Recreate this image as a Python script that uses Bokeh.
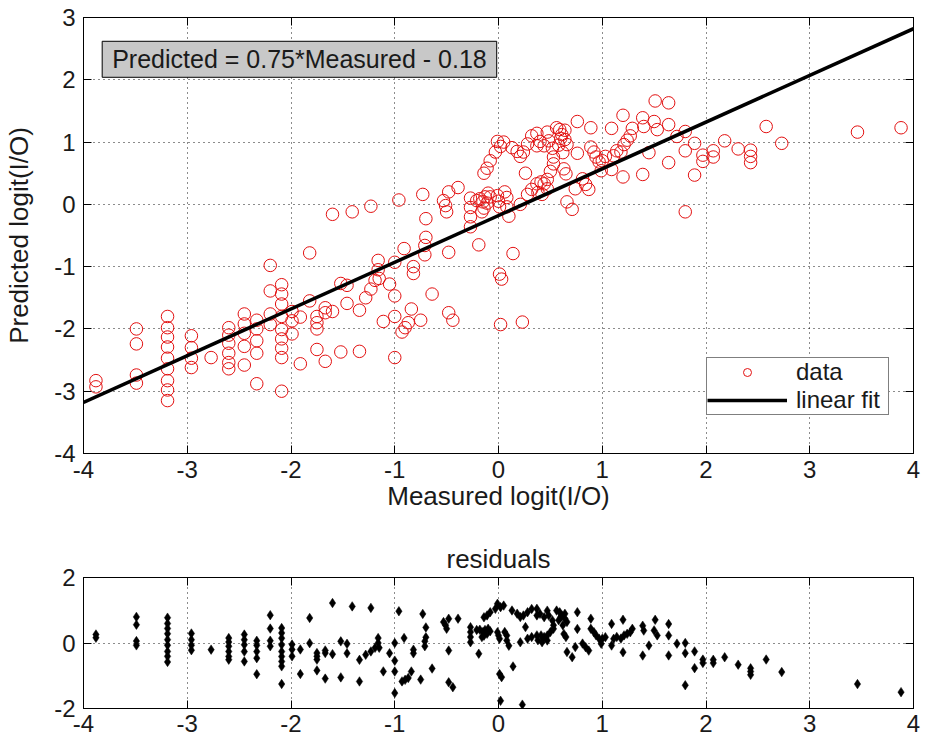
from bokeh.plotting import figure
from bokeh.models import Range1d, LinearAxis, Label, Legend, LegendItem, FixedTicker, ColumnDataSource
from bokeh.layouts import column
from bokeh.embed import file_html
from bokeh.resources import INLINE

# ---------------- data ----------------
measured = [
    -3.88, -3.88,
    -3.49, -3.49, -3.49, -3.49,
    -3.19, -3.19, -3.19, -3.19, -3.19, -3.19, -3.19, -3.19, -3.19,
    -2.96, -2.96, -2.96, -2.96,
    -2.77,
    -2.60, -2.60, -2.60, -2.60, -2.60, -2.60,
    -2.45, -2.45, -2.45, -2.45, -2.45,
    -2.33, -2.33, -2.33, -2.33, -2.33,
    -2.20, -2.20, -2.20, -2.20,
    -2.09, -2.09, -2.09, -2.09, -2.09, -2.09, -2.09, -2.09, -2.09,
    -1.99, -1.99, -1.99,
    -1.91, -1.91,
    -1.82, -1.82,
    -1.75, -1.75, -1.75, -1.75,
    -1.67, -1.67, -1.67,
    -1.60, -1.60,
    -1.52, -1.52,
    -1.46, -1.46,
    -1.41,
    -1.34, -1.34,
    -1.28,
    -1.23, -1.23,
    -1.19, -1.16, -1.16, -1.15,
    -1.11,
    -1.05,
    -1.00, -1.00, -1.00, -1.00,
    -0.96,
    -0.93, -0.90, -0.87, -0.84,
    -0.91,
    -0.82, -0.82,
    -0.75,
    -0.73, -0.70, -0.70, -0.71, -0.71,
    -0.64,
    -0.53, -0.51, -0.50, -0.48, -0.39,
    -0.48, -0.48, -0.44,
    -0.27, -0.27, -0.27, -0.27,
    -0.19,
    -0.21, -0.18, -0.15, -0.13, -0.10, -0.08, -0.14, -0.16, -0.11,
    -0.14, -0.11, -0.08, -0.03, -0.01, 0.02, 0.05,
    -0.01, 0.00, 0.01, 0.06, 0.08, 0.08, 0.10,
    0.01, 0.03, 0.02,
    0.23, 0.14,
    0.13, 0.18, 0.21, 0.24, 0.28, 0.32, 0.37, 0.37, 0.40,
    0.21, 0.28, 0.32, 0.37, 0.38, 0.41, 0.26,
    0.47, 0.485, 0.44, 0.56, 0.59, 0.61, 0.64, 0.64, 0.66, 0.62,
    0.60, 0.58, 0.52, 0.53, 0.53, 0.50, 0.47, 0.44, 0.47, 0.42,
    0.63, 0.65, 0.76, 0.76, 0.66, 0.71, 0.74, 0.81, 0.84, 0.87,
    0.89, 0.89, 0.92, 0.94, 0.97, 0.99, 1.00, 1.03, 1.09, 1.09,
    1.11, 1.14, 1.18, 1.21, 1.24, 1.27, 1.29, 1.20, 1.20, 1.39,
    1.40, 1.39, 1.45, 1.51, 1.50, 1.53, 1.64, 1.64, 1.64, 1.72,
    1.80, 1.80, 1.80, 1.89, 1.89, 1.97, 1.97, 2.07, 2.07, 2.18,
    2.31, 2.43, 2.43, 2.43, 2.58, 2.73, 3.46, 3.88,
]
predicted = [
    -2.83, -2.93,
    -2.00, -2.24, -2.74, -2.87,
    -1.80, -1.98, -2.13, -2.29, -2.47, -2.64, -2.83, -2.98, -3.15,
    -2.11, -2.30, -2.47, -2.62,
    -2.46,
    -1.98, -2.10, -2.23, -2.39, -2.54, -2.64,
    -1.76, -1.92, -2.07, -2.28, -2.58,
    -1.86, -2.00, -2.19, -2.39, -2.88,
    -0.98, -1.39, -1.76, -1.93,
    -1.29, -1.44, -1.60, -1.80, -2.01, -2.16, -2.31, -2.46, -3.00,
    -1.72, -1.87, -2.08,
    -1.81, -2.56,
    -0.78, -1.55,
    -1.80, -1.90, -2.00, -2.33,
    -1.66, -1.74, -2.52,
    -0.16, -1.72,
    -1.27, -2.37,
    -1.30, -1.59,
    -0.12,
    -1.70, -2.36,
    -1.50,
    -0.03, -1.36,
    -1.22, -0.90, -1.05, -1.19,
    -1.88,
    -1.28,
    -0.93, -1.47, -1.80, -2.46,
    0.07,
    -2.05, -1.98, -1.90, -1.68,
    -0.71,
    -1.00, -1.11,
    -1.86,
    0.16, -0.23, -0.53, -0.66, -0.81,
    -1.44,
    0.06, -0.02, -0.12, 0.20, 0.27,
    -0.77, -1.74, -1.86,
    0.10, -0.05, -0.20, -0.36,
    -0.65,
    0.06, 0.09, 0.04, 0.12, 0.18, 0.12, -0.06, -0.12, 0.02,
    0.50, 0.58, 0.70, 0.84, 1.01, 0.93, 1.00,
    0.14, 0.05, -0.04, 0.20, 0.11, -0.04, -0.19,
    -1.12, -1.20, -1.93,
    -1.89, -0.79,
    0.91, 0.85, 0.77, 0.84, 0.97, 1.10, 1.14, 0.94, 1.01,
    0.00, 0.16, 0.24, 0.33, 0.19, 0.36, 0.50,
    1.16, 1.02, 0.94, 1.23, 1.20, 1.12, 1.19, 1.04, 0.96, 0.83,
    1.06, 0.95, 0.90, 0.76, 0.65, 0.53, 0.40, 0.33, 0.25, 0.16,
    0.57, 0.49, 1.33, 0.82, 0.04, -0.08, 0.25, 0.41, 0.32, 0.24,
    1.23, 0.92, 0.84, 0.76, 0.68, 0.54, 0.70, 0.77, 1.22, 0.56,
    0.78, 0.86, 0.84, 0.96, 1.03, 1.10, 1.22, 1.43, 0.44, 1.39,
    1.25, 0.48, 0.83, 1.66, 1.33, 1.20, 1.63, 1.28, 0.67, 1.09,
    1.17, 0.86, -0.12, 0.98, 0.47, 0.79, 0.69, 0.86, 0.76, 1.02,
    0.89, 0.87, 0.77, 0.67, 1.25, 0.98, 1.16, 1.23,
]

slope = 0.75
intercept = -0.18
fit_label = "Predicted = 0.75*Measured - 0.18"

x_ticks = [-4, -3, -2, -1, 0, 1, 2, 3, 4]
x_tick_labels = ["-4", "-3", "-2", "-1", "0", "1", "2", "3", "4"]
y_ticks = [-4, -3, -2, -1, 0, 1, 2, 3]
y_tick_labels = ["-4", "-3", "-2", "-1", "0", "1", "2", "3"]
r_ticks = [-2, 0, 2]
r_tick_labels = ["-2", "0", "2"]

# derived series
fit_x = [x_ticks[0], x_ticks[-1]]
fit_y = [slope * x + intercept for x in fit_x]
residuals = [p - (slope * m + intercept) for m, p in zip(measured, predicted)]

FONT = "Liberation Sans"
TXT = "#1a1a1a"
TICK_FS = "24px"
LABEL_FS = "26px"


def style_axes(axis_list, ticks, labels):
    for ax in axis_list:
        ax.ticker = FixedTicker(ticks=ticks)
        ax.major_label_overrides = {t: l for t, l in zip(ticks, labels)}
        ax.major_tick_in = 8
        ax.major_tick_out = 0
        ax.minor_tick_line_color = None
        ax.axis_line_color = "black"
        ax.major_tick_line_color = "black"
        ax.major_label_text_font = FONT
        ax.major_label_text_font_size = TICK_FS
        ax.major_label_text_color = TXT
        ax.axis_label_text_font = FONT
        ax.axis_label_text_font_size = LABEL_FS
        ax.axis_label_text_font_style = "normal"
        ax.axis_label_text_color = TXT


def add_box_axes(fig, xt, yt):
    # tick marks on the top and right edges (no labels), as in the MATLAB box
    top = LinearAxis(ticker=FixedTicker(ticks=xt), major_tick_in=8, major_tick_out=0,
                     minor_tick_line_color=None, major_label_text_color=None,
                     major_label_text_font_size="1px",
                     major_label_standoff=0, axis_line_color="black")
    right = LinearAxis(ticker=FixedTicker(ticks=yt), major_tick_in=8, major_tick_out=0,
                       minor_tick_line_color=None, major_label_text_color=None,
                       major_label_text_font_size="1px",
                       major_label_standoff=0, axis_line_color="black")
    fig.add_layout(top, "above")
    fig.add_layout(right, "right")


def style_grid(fig, xt, yt):
    fig.xgrid.ticker = FixedTicker(ticks=xt)
    fig.ygrid.ticker = FixedTicker(ticks=yt)
    for g in (fig.xgrid, fig.ygrid):
        g.grid_line_color = "black"
        g.grid_line_dash = "1 4"
        g.grid_line_width = 1
        g.grid_line_alpha = 0.9


# ---------------- main plot ----------------
p = figure(frame_width=830, frame_height=436,
           x_range=Range1d(-4, 4), y_range=Range1d(-4, 3),
           output_backend="svg", toolbar_location=None,
           min_border_left=83, min_border_right=14, min_border_top=17, min_border_bottom=67,
           x_axis_label="Measured logit(I/O)", y_axis_label="Predicted logit(I/O)")
p.outline_line_color = "black"
p.background_fill_color = "white"
p.border_fill_color = "white"

src = ColumnDataSource(dict(measured=measured, predicted=predicted, residual=residuals))
r_data = p.scatter("measured", "predicted", source=src, marker="circle", size=12.5,
                   fill_color=None, line_color="#e31010", line_width=1)
r_fit = p.line(fit_x, fit_y, line_color="black", line_width=3.5)

style_axes(p.xaxis, x_ticks, x_tick_labels)
style_axes(p.yaxis, y_ticks, y_tick_labels)
p.xaxis.major_label_standoff = 7
p.yaxis.major_label_standoff = 8
p.xaxis.axis_label_standoff = 0
p.yaxis.axis_label_standoff = 17
add_box_axes(p, x_ticks, y_ticks)
style_grid(p, x_ticks, y_ticks)

box = Label(x=-3.82, y=2.04, text=fit_label, text_align="left", text_baseline="bottom",
            text_font=FONT, text_font_size="25px", text_color=TXT,
            background_fill_color="#c8c8c8", border_line_color="black", border_line_width=1,
            padding=dict(left=10, right=10, top=4, bottom=4))
p.add_layout(box)

legend = Legend(items=[LegendItem(label="data", renderers=[r_data]),
                       LegendItem(label="linear fit", renderers=[r_fit])],
                location=(623, 38), glyph_width=80, glyph_height=20, label_height=20,
                label_width=92, spacing=0, padding=0, margin=0, label_standoff=9,
                label_text_font=FONT, label_text_font_size="24px", label_text_color=TXT,
                border_line_color="black", border_line_width=1, background_fill_alpha=1)
p.add_layout(legend, "center")

# ---------------- residuals ----------------
p2 = figure(frame_width=830, frame_height=131,
            x_range=Range1d(-4, 4), y_range=Range1d(-2, 2),
            output_backend="svg", toolbar_location=None,
            min_border_left=83, min_border_right=14, min_border_top=57, min_border_bottom=40,
            title="residuals")
p2.outline_line_color = "black"
p2.title.align = "center"
p2.title.text_font = FONT
p2.title.text_font_size = LABEL_FS
p2.title.text_font_style = "normal"
p2.title.text_color = TXT
p2.title.standoff = 7
p2.scatter("measured", "residual", source=src, marker="diamond", size=9.5,
           fill_color="black", line_color="black", line_width=0.5)
style_axes(p2.xaxis, x_ticks, x_tick_labels)
style_axes(p2.yaxis, r_ticks, r_tick_labels)
p2.xaxis.major_label_standoff = 6
p2.yaxis.major_label_standoff = 8
add_box_axes(p2, x_ticks, r_ticks)
style_grid(p2, x_ticks, [0])

layout = column(p, p2, spacing=0)
open("out.html", "w").write(file_html(layout, INLINE))
